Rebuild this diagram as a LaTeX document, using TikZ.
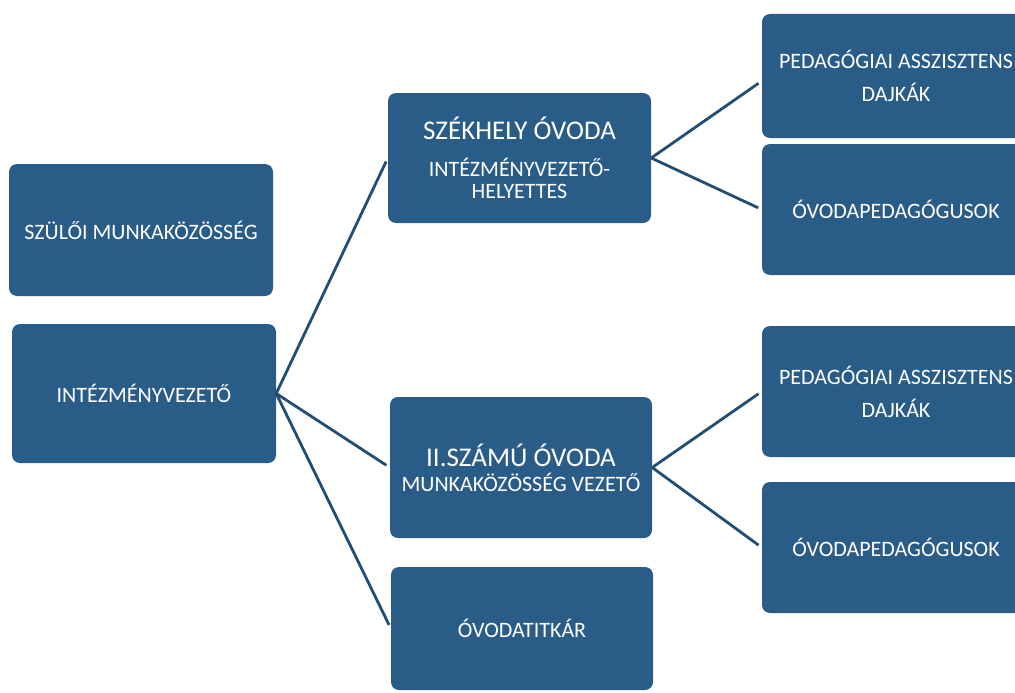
\documentclass[tikz,border=0pt]{standalone}
\usepackage{fontspec}
\setmainfont{Carlito}
\definecolor{boxblue}{RGB}{42,92,136}
\definecolor{lineblue}{RGB}{34,78,118}
\newcommand{\headline}[1]{{\fontsize{27}{29}\selectfont #1}}

\begin{document}
\begin{tikzpicture}[x=1pt,y=-1pt,
  box node/.style={rectangle,rounded corners=8pt,fill=boxblue,text=white,
  align=center,inner sep=0pt,font=\fontsize{22}{22}\selectfont}]

  \fill[white] (0,0) rectangle (1015,693);
  \useasboundingbox (0,0) rectangle (1015,693);
  \clip (0,0) rectangle (1015,693);

  \node[box node, minimum width=264pt, minimum height=132pt] (szmk) at (141,230) {SZÜLŐI MUNKAKÖZÖSSÉG};
  \node[box node, minimum width=264pt, minimum height=139pt] (iv) at (144,393.5) {INTÉZMÉNYVEZETŐ};

  \node[box node, minimum width=263pt, minimum height=130pt] (szekhely) at (519.5,158)
    {\headline{SZÉKHELY ÓVODA}\\[15pt]INTÉZMÉNYVEZETŐ-\\HELYETTES};
  \node[box node, minimum width=262pt, minimum height=141pt] (ovoda2) at (521,467.5)
    {\headline{II.SZÁMÚ ÓVODA}\\[3pt]MUNKAKÖZÖSSÉG VEZETŐ};
  \node[box node, minimum width=262pt, minimum height=123pt] (titkar) at (522,628.5) {ÓVODATITKÁR};

  \node[box node, minimum width=268pt, minimum height=124pt] (r1) at (896,76)
    {PEDAGÓGIAI ASSZISZTENS\\[11pt]DAJKÁK};
  \node[box node, minimum width=268pt, minimum height=131pt] (r2) at (896,209.5) {ÓVODAPEDAGÓGUSOK};
  \node[box node, minimum width=268pt, minimum height=131pt] (r3) at (896,391.5)
    {PEDAGÓGIAI ASSZISZTENS\\[11pt]DAJKÁK};
  \node[box node, minimum width=268pt, minimum height=131pt] (r4) at (896,547.5) {ÓVODAPEDAGÓGUSOK};

  \path[every edge/.style={draw=lineblue,line width=2.8pt,shorten >=4pt}]
    (iv.east) edge (szekhely.west)
      edge (ovoda2.west)
      edge (titkar.west)
    (szekhely.east) edge ([yshift=-5pt]r1.west)
      edge (r2.west)
    (ovoda2.east) edge (r3.west)
      edge (r4.west);

\end{tikzpicture}
\end{document}
